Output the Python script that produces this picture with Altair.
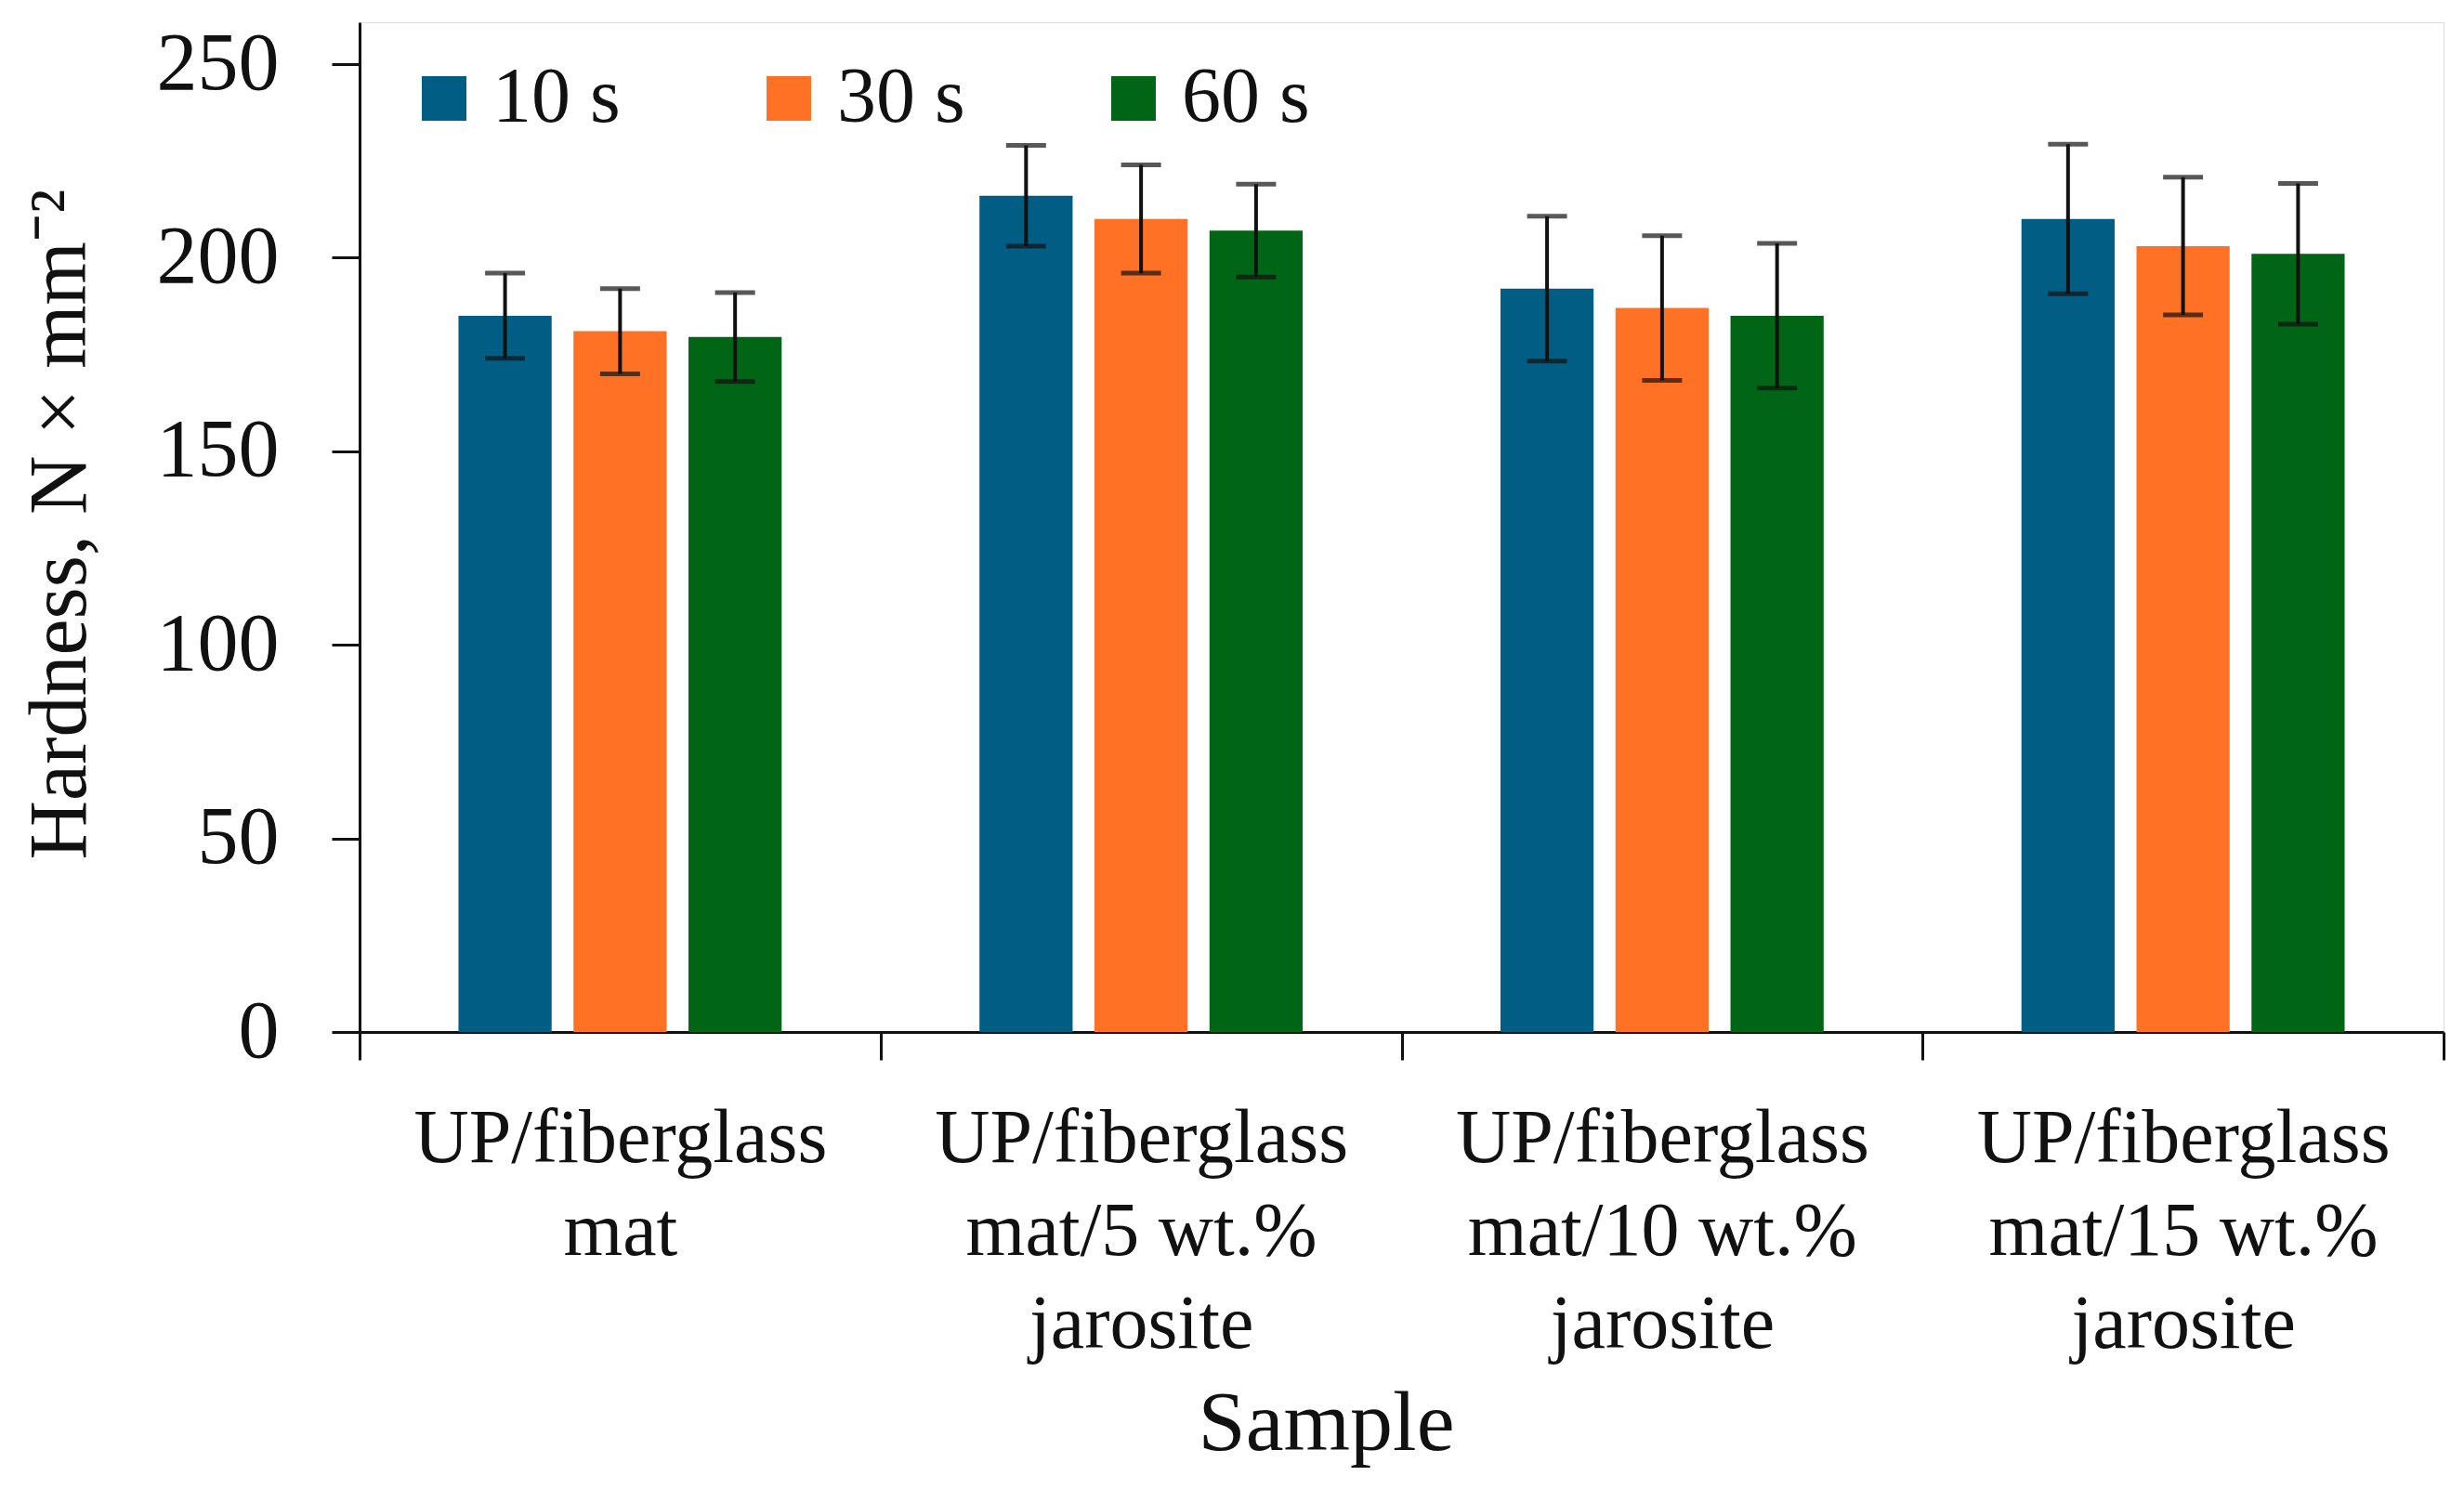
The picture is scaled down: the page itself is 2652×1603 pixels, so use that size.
import altair as alt
import pandas as pd

samples = [
    "UP/fiberglass|mat",
    "UP/fiberglass|mat/5 wt.%|jarosite",
    "UP/fiberglass|mat/10 wt.%|jarosite",
    "UP/fiberglass|mat/15 wt.%|jarosite",
]
times = ["10 s", "30 s", "60 s"]
colors = ["#005e85", "#ff7226", "#006616"]

hard_10 = [185, 216, 192, 210]
hard_30 = [181, 210, 187, 203]
hard_60 = [179.5, 207, 185, 201]
err_10 = [11, 13, 18.7, 19.3]
err_30 = [11, 14, 18.7, 17.8]
err_60 = [11.5, 12, 18.7, 18.2]

rows = []
for t, vals, errs in zip(times, [hard_10, hard_30, hard_60], [err_10, err_30, err_60]):
    for s, v, e in zip(samples, vals, errs):
        rows.append({"sample": s, "time": t, "hardness": v, "lo": v - e, "hi": v + e})
df = pd.DataFrame(rows)

FONT = "Liberation Serif"

x_enc = alt.X(
    "sample:N",
    sort=samples,
    scale=alt.Scale(paddingInner=0, paddingOuter=0),
    axis=alt.Axis(
        title="Sample",
        titleFont=FONT, titleFontSize=92, titleFontWeight="normal", titleColor="#111",
        titleX=1040, titleY=449, titleBaseline="alphabetic", titleAlign="center",
        labelExpr="split(datum.label, '|')",
        labelAngle=0, labelFont=FONT, labelFontSize=82, labelLineHeight=100,
        labelColor="#111", labelBaseline="top", labelPadding=44, labelLimit=0,
        labelOverlap=False,
        tickBand="extent", tickSize=30, tickWidth=3, tickColor="#111",
        domainColor="#111", domainWidth=3, grid=False,
    ),
)
xoff = alt.XOffset("time:N", sort=times, scale=alt.Scale(paddingInner=0.19, paddingOuter=0.86))

y_scale = alt.Scale(domain=[0, 260.8], nice=False, zero=True)

bars = alt.Chart().mark_bar().encode(
    x=x_enc,
    xOffset=xoff,
    y=alt.Y(
        "hardness:Q",
        scale=y_scale,
        axis=alt.Axis(
            title="Hardness, N × mm⁻²",
            titleFont=FONT, titleFontSize=88, titleFontWeight="normal", titleColor="#111",
            titleAngle=270, titleX=-296, titleY=540, titleAlign="center", titleBaseline="alphabetic",
            values=[0, 50, 100, 150, 200, 250],
            labelFont=FONT, labelFontSize=88, labelColor="#111", labelPadding=57,
            tickSize=30, tickWidth=3, tickColor="#111",
            domainColor="#111", domainWidth=3, grid=False,
        ),
    ),
    color=alt.Color(
        "time:N",
        sort=times,
        scale=alt.Scale(domain=times, range=colors),
        legend=alt.Legend(
            title=None, orient="none", direction="horizontal",
            legendX=49, legendY=40, padding=0,
            symbolType="square", symbolSize=2304, symbolStrokeWidth=0, symbolOpacity=1,
            labelFont=FONT, labelFontSize=84, labelColor="#111", labelOffset=10,
            labelLimit=0, columnPadding=139,
        ),
    ),
)

rules = alt.Chart().mark_rule(color="#111", strokeWidth=4).encode(
    x=alt.X("sample:N", sort=samples),
    xOffset=xoff,
    y=alt.Y("lo:Q", scale=y_scale),
    y2="hi:Q",
)
cap_lo = alt.Chart().mark_tick(color="#111", size=43, thickness=5, orient="horizontal").encode(
    x=alt.X("sample:N", sort=samples),
    xOffset=xoff,
    y=alt.Y("lo:Q", scale=y_scale),
)
cap_hi = alt.Chart().mark_tick(color="#111", size=43, thickness=5, orient="horizontal").encode(
    x=alt.X("sample:N", sort=samples),
    xOffset=xoff,
    y=alt.Y("hi:Q", scale=y_scale),
)

chart = alt.layer(bars, rules, cap_lo, cap_hi, data=df).properties(
    width=2243,
    height=1087,
    padding={"left": 379, "top": 16, "right": 14, "bottom": 484},
    autosize=alt.AutoSizeParams(type="none"),
).configure_view(stroke="#111", strokeWidth=3).configure(background="white")

chart.save("out.html", embed_options={"renderer": "svg", "actions": False})
